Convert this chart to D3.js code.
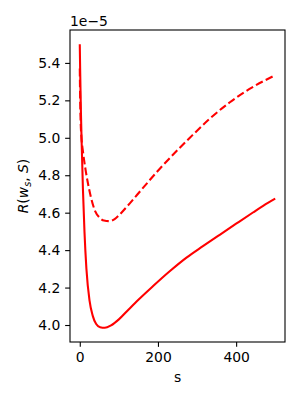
<!DOCTYPE html>
<html>
<head>
<meta charset="utf-8">
<script src="https://cdn.jsdelivr.net/npm/d3@7"></script>
<style>
  body { margin: 0; background: #fff; }
  svg { display: block; font-family: "DejaVu Sans", sans-serif; }
</style>
</head>
<body>
<svg id="chart"></svg>
<script>
// values, in units of 1e-5
const solidS = [0, 1, 2, 3, 5, 8, 12, 17, 25, 33, 42, 52, 64, 80, 100, 125, 150, 187, 230, 273, 315, 358, 400, 443, 470, 500];
const solidR = [5.5, 5.36, 5.24, 5.13, 4.96, 4.73, 4.5, 4.3, 4.13, 4.05, 4.005, 3.988, 3.985, 3.998, 4.03, 4.083, 4.135, 4.207, 4.287, 4.36, 4.421, 4.482, 4.541, 4.601, 4.638, 4.675];

const dashS = [0, 1, 2, 4, 8, 14, 22, 30, 39, 50, 62, 75, 90, 102, 128, 160, 200, 256, 281, 332, 384, 440, 500];
const dashR = [5.37, 5.2, 5.1, 5.01, 4.93, 4.84, 4.745, 4.67, 4.61, 4.575, 4.558, 4.555, 4.567, 4.59, 4.65, 4.728, 4.824, 4.947, 4.999, 5.101, 5.19, 5.268, 5.334];

const xTicks = [0, 200, 400];
const yTicks = [4.0, 4.2, 4.4, 4.6, 4.8, 5.0, 5.2, 5.4];

const width = 300, height = 400;
const margin = { top: 30, right: 15, bottom: 58, left: 70 };

const svg = d3.select("#chart").attr("width", width).attr("height", height);

// matplotlib style 5% padding on the data range
const xMin = 0, xMax = 500;
const yMin = d3.min(solidR.concat(dashR)), yMax = d3.max(solidR.concat(dashR));
const xPad = (xMax - xMin) * 0.05, yPad = (yMax - yMin) * 0.05;

const x = d3.scaleLinear().domain([xMin - xPad, xMax + xPad]).range([margin.left, width - margin.right]);
const y = d3.scaleLinear().domain([yMin - yPad, yMax + yPad]).range([height - margin.bottom, margin.top]);

const line = d3.line()
    .curve(d3.curveMonotoneX)
    .x(d => x(d[0]))
    .y(d => y(d[1]));

const plot = svg.append("g");
plot.append("path")
    .datum(d3.zip(dashS, dashR))
    .attr("fill", "none")
    .attr("stroke", "#ff0000")
    .attr("stroke-width", 2.08)
    .attr("stroke-dasharray", "7.7,3.33")
    .attr("d", line);
plot.append("path")
    .datum(d3.zip(solidS, solidR))
    .attr("fill", "none")
    .attr("stroke", "#ff0000")
    .attr("stroke-width", 2.08)
    .attr("d", line);

// axes
const xAxis = svg.append("g")
    .attr("transform", `translate(0,${height - margin.bottom})`)
    .call(d3.axisBottom(x).tickValues(xTicks).tickSize(4.86).tickPadding(4.9).tickFormat(d3.format("d")));
const yAxis = svg.append("g")
    .attr("transform", `translate(${margin.left},0)`)
    .call(d3.axisLeft(y).tickValues(yTicks).tickSize(4.86).tickPadding(4.9).tickFormat(d3.format(".1f")));

[xAxis, yAxis].forEach(g => {
    g.select(".domain").remove();
    g.selectAll(".tick line").attr("stroke", "#000").attr("stroke-width", 1.1);
    g.selectAll(".tick text").attr("fill", "#000").style("font-size", "13.9px").style("font-family", "DejaVu Sans");
});

// frame
svg.append("rect")
    .attr("x", margin.left)
    .attr("y", margin.top)
    .attr("width", width - margin.left - margin.right)
    .attr("height", height - margin.top - margin.bottom)
    .attr("fill", "none")
    .attr("stroke", "#000")
    .attr("stroke-width", 1.1);

// offset text
svg.append("text")
    .attr("x", margin.left)
    .attr("y", 26)
    .style("font-size", "13.9px")
    .text("1e\u22125");

// labels
svg.append("text")
    .attr("x", (margin.left + width - margin.right) / 2)
    .attr("y", 382)
    .attr("text-anchor", "middle")
    .style("font-size", "13.9px")
    .text("s");

const yLabel = svg.append("text")
    .attr("transform", `translate(28,${(margin.top + height - margin.bottom) / 2}) rotate(-90)`)
    .attr("text-anchor", "middle")
    .style("font-size", "13.9px");
yLabel.append("tspan").style("font-style", "italic").text("R");
yLabel.append("tspan").text("(");
yLabel.append("tspan").style("font-style", "italic").text("w");
yLabel.append("tspan").style("font-style", "italic").style("font-size", "9.7px").attr("dy", 2.5).text("s");
yLabel.append("tspan").attr("dy", -2.5).text(", ");
yLabel.append("tspan").style("font-style", "italic").text("S");
yLabel.append("tspan").text(")");
</script>
</body>
</html>
